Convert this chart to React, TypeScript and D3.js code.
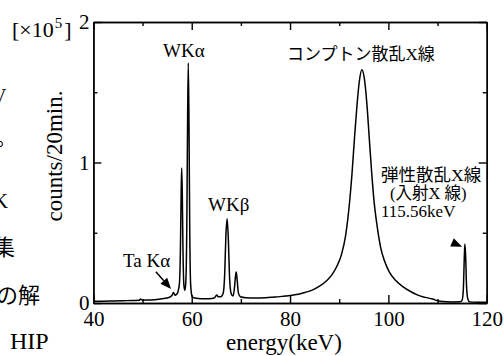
import React, { useRef, useEffect } from "react";
import * as d3 from "d3";

// spectrum (counts in units of 1e5 per 20 min)
const energy = [
  40.0, 42.0, 44.0, 46.0, 48.0, 49.3, 49.6, 49.9, 51.0, 52.5, 54.0, 55.0, 55.7, 56.0, 56.3, 56.6,
  56.9, 57.2, 57.5, 57.7, 57.85, 57.96, 58.08, 58.22, 58.4, 58.6, 58.8, 59.0, 59.15, 59.3, 59.45,
  59.6, 59.8, 60.1, 60.6, 62.0, 63.5, 64.6, 64.9, 65.1, 65.4, 65.9, 66.4, 66.7, 66.95, 67.2, 67.45,
  67.7, 68.0, 68.4, 68.7, 68.9, 69.05, 69.25, 69.5, 69.9, 71.0, 73.0, 75.0, 77.0, 79.0, 81.0, 83.0,
  84.5, 86.0, 87.5, 88.5, 89.5, 90.5, 91.3, 92.0, 92.6, 93.1, 93.6, 94.1, 94.6, 95.1, 95.6, 96.1,
  96.6, 97.1, 97.7, 98.4, 99.2, 100.2, 101.5, 103.0, 104.5, 106.0, 107.5, 109.0, 110.0, 111.0,
  113.0, 114.6, 115.0, 115.25, 115.45, 115.56, 115.7, 115.9, 116.15, 116.5, 118.0, 120.0,
];
const counts = [
  0.012, 0.013, 0.014, 0.016, 0.018, 0.019, 0.028, 0.02, 0.021, 0.024, 0.03, 0.036, 0.045, 0.055,
  0.075, 0.055, 0.06, 0.08, 0.14, 0.38, 0.78, 0.96, 0.78, 0.38, 0.13, 0.09, 0.15, 0.55, 1.25, 1.71,
  1.25, 0.5, 0.12, 0.045, 0.035, 0.03, 0.031, 0.036, 0.05, 0.057, 0.045, 0.045, 0.07, 0.2, 0.48,
  0.6, 0.45, 0.18, 0.07, 0.05, 0.11, 0.19, 0.22, 0.16, 0.07, 0.045, 0.038, 0.036, 0.038, 0.042,
  0.05, 0.058, 0.075, 0.092, 0.12, 0.16, 0.2, 0.26, 0.35, 0.48, 0.68, 0.92, 1.17, 1.4, 1.58, 1.66,
  1.6, 1.43, 1.18, 0.93, 0.72, 0.55, 0.4, 0.3, 0.22, 0.16, 0.115, 0.082, 0.056, 0.04, 0.028, 0.016,
  0.01, 0.008, 0.009, 0.02, 0.1, 0.33, 0.42, 0.35, 0.12, 0.03, 0.008, 0.006, 0.006,
];

const xMajor = [40, 60, 80, 100, 120];
const xMinor = [50, 70, 90, 110];
const yMajor = [0, 1, 2];
const yMinor = [0.5, 1.5];

const SERIF = "'Liberation Serif', 'Noto Sans CJK JP', serif";

export default function App() {
  const svgRef = useRef<SVGSVGElement>(null);

  useEffect(() => {
    if (!svgRef.current) return;
    const svg = d3.select(svgRef.current);
    svg.selectAll("*").remove();

    const left = 93.4, right = 486.7, top = 22, bottom = 303;
    const x = d3.scaleLinear().domain([40, 120]).range([left, right]);
    const y = d3.scaleLinear().domain([0, 2]).range([bottom, top]);

    const styleAxis = (g: any) => {
      g.attr("font-family", SERIF).attr("font-size", 21);
      g.selectAll("path, line").attr("stroke", "#000").attr("stroke-width", 1.4);
      g.selectAll("text")
        .attr("fill", "#000")
        .style("font-family", SERIF)
        .style("font-size", "21px");
    };

    // bottom axis: major with labels, minor without
    svg.append("g")
      .attr("transform", `translate(0,${bottom})`)
      .call(d3.axisBottom(x).tickValues(xMajor).tickSize(-8).tickSizeOuter(0).tickPadding(8).tickFormat(d3.format("d")))
      .call(styleAxis);
    svg.append("g")
      .attr("transform", `translate(0,${bottom})`)
      .call(d3.axisBottom(x).tickValues(xMinor).tickSize(-4).tickSizeOuter(0).tickFormat(() => ""))
      .call(styleAxis);
    // top axis
    svg.append("g")
      .attr("transform", `translate(0,${top})`)
      .call(d3.axisTop(x).tickValues(xMajor).tickSize(-8).tickSizeOuter(0).tickFormat(() => ""))
      .call(styleAxis);
    svg.append("g")
      .attr("transform", `translate(0,${top})`)
      .call(d3.axisTop(x).tickValues(xMinor).tickSize(-4).tickSizeOuter(0).tickFormat(() => ""))
      .call(styleAxis);
    // left axis
    svg.append("g")
      .attr("transform", `translate(${left},0)`)
      .call(d3.axisLeft(y).tickValues(yMajor).tickSize(-8).tickSizeOuter(0).tickPadding(4).tickFormat(d3.format("d")))
      .call(styleAxis);
    svg.append("g")
      .attr("transform", `translate(${left},0)`)
      .call(d3.axisLeft(y).tickValues(yMinor).tickSize(-4).tickSizeOuter(0).tickFormat(() => ""))
      .call(styleAxis);
    // right axis
    svg.append("g")
      .attr("transform", `translate(${right},0)`)
      .call(d3.axisRight(y).tickValues(yMajor).tickSize(-8).tickSizeOuter(0).tickFormat(() => ""))
      .call(styleAxis);
    svg.append("g")
      .attr("transform", `translate(${right},0)`)
      .call(d3.axisRight(y).tickValues(yMinor).tickSize(-4).tickSizeOuter(0).tickFormat(() => ""))
      .call(styleAxis);

    // spectrum
    const pts = energy.map((e, i) => [e, counts[i]] as [number, number]);
    const line = d3.line<[number, number]>()
      .x(d => x(d[0]))
      .y(d => y(d[1]))
      .curve(d3.curveMonotoneX);
    svg.append("path")
      .datum(pts)
      .attr("fill", "none")
      .attr("stroke", "#000")
      .attr("stroke-width", 1.5)
      .attr("stroke-linejoin", "round")
      .attr("d", line);

    const txt = (tx: number, ty: number, s: string, size: number, anchor = "start") =>
      svg.append("text")
        .attr("x", tx)
        .attr("y", ty)
        .attr("text-anchor", anchor)
        .style("font-family", SERIF)
        .style("font-size", `${size}px`)
        .attr("fill", "#000")
        .text(s);

    // multiplier
    const mult = svg.append("text")
      .attr("x", 12)
      .attr("y", 37)
      .style("font-family", SERIF)
      .style("font-size", "22px")
      .attr("fill", "#000");
    mult.append("tspan").text("[×10");
    mult.append("tspan").attr("dy", -9).attr("dx", 1).style("font-size", "15px").text("5");
    mult.append("tspan").attr("dy", 9).attr("dx", 2).text("]");

    // axis titles
    txt(284, 350, "energy(keV)", 23, "middle");
    svg.append("text")
      .attr("transform", "translate(62,156) rotate(-90)")
      .attr("text-anchor", "middle")
      .style("font-family", SERIF)
      .style("font-size", "23px")
      .attr("fill", "#000")
      .text("counts/20min.");

    // peak labels
    txt(163, 57, "WKα", 19);
    txt(208, 211, "WKβ", 19);
    txt(123, 267, "Ta Kα", 19);
    txt(287, 60, "コンプトン散乱X線", 17);
    txt(381, 181, "弾性散乱X線", 17.5);
    txt(390, 199, "(入射X 線)", 16.5);
    txt(381, 217, "115.56keV", 17);

    // arrows
    const arrow = (tipX: number, tipY: number, dx: number, dy: number, tail: number) => {
      const len = Math.hypot(dx, dy);
      const ux = dx / len, uy = dy / len;
      const head = 11, half = 4.5;
      const bx = tipX - ux * head, by = tipY - uy * head;
      if (tail > 0) {
        svg.append("line")
          .attr("x1", tipX - ux * tail).attr("y1", tipY - uy * tail)
          .attr("x2", bx).attr("y2", by)
          .attr("stroke", "#000").attr("stroke-width", 1.5);
      }
      svg.append("path")
        .attr("d", `M${tipX},${tipY}L${bx - uy * half},${by + ux * half}L${bx + uy * half},${by - ux * half}Z`)
        .attr("fill", "#000");
    };
    arrow(x(55.8), y(0.1), 15, 17, 23);
    arrow(x(115.0), y(0.4), 14, 6, 0);

    // fragments of the surrounding page text
    txt(-8, 103, "V", 20);
    txt(-4, 146, "。", 20);
    txt(-7, 208, "K", 21);
    txt(-7, 255, "集", 22);
    txt(-4, 303, "の解", 22);
    txt(10, 349, "HIP", 24);
  }, []);

  return (
    <svg
      ref={svgRef}
      width={504}
      height={356}
      style={{ position: "absolute", left: 0, top: 0, background: "#fff" }}
    />
  );
}
